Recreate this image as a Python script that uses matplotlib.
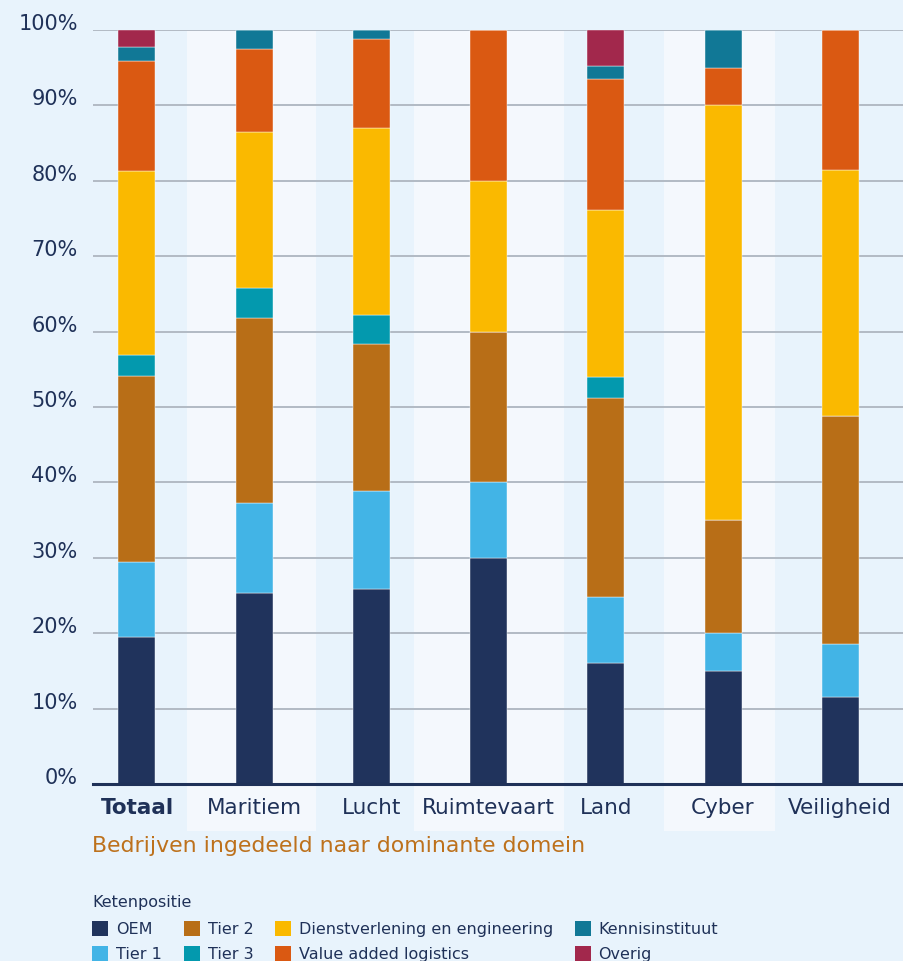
import numpy as np
import matplotlib.pyplot as plt
from matplotlib.patches import Patch

# categorieen en aandelen (%)
domeinen = ['Totaal', 'Maritiem', 'Lucht', 'Ruimtevaart', 'Land', 'Cyber', 'Veiligheid']
oem = [19.5, 25.3, 25.9, 30, 16.0, 15, 11.6]
tier1 = [9.9, 12.0, 13.0, 10, 8.8, 5, 7.0]
tier2 = [24.7, 24.5, 19.5, 20, 26.4, 15, 30.2]
tier3 = [2.8, 4.0, 3.8, 0, 2.8, 0, 0]
dienst = [24.4, 20.7, 24.8, 20, 22.1, 55, 32.6]
logistics = [14.6, 11.0, 11.8, 20, 17.4, 5, 18.6]
kennis = [1.8, 2.5, 1.2, 0, 1.7, 5, 0]
overig = [2.3, 0, 0, 0, 4.8, 0, 0]

series = [oem, tier1, tier2, tier3, dienst, logistics, kennis, overig]
namen = ['OEM', 'Tier 1', 'Tier 2', 'Tier 3', 'Dienstverlening en engineering',
         'Value added logistics', 'Kennisinstituut', 'Overig']
kleuren = ['#20335c', '#42b4e6', '#b86e17', '#0399ae', '#fab900',
           '#da5912', '#117896', '#a2284c']

NAVY = '#1f3158'
BG = '#e8f3fc'
BAND = '#f4f8fd'

plt.rcParams['font.family'] = ['DejaVu Sans']

fig = plt.figure(figsize=(9.04, 9.61), dpi=100, facecolor=BG)
ax = fig.add_axes([0.1029, 0.1842, 0.8971, 0.7846])
ax.set_facecolor(BG)

x = np.arange(len(domeinen))

# lichtere banden achter een paar kolommen
for a, b in [(0.427, 1.527), (2.36, 3.64), (4.50, 5.44)]:
    ax.axvspan(a, b, ymin=-0.062, ymax=1, color=BAND, zorder=0, clip_on=False, lw=0)

# gestapelde balken
bottom = np.zeros(len(domeinen))
for vals, naam, kleur in zip(series, namen, kleuren):
    vals = np.array(vals, dtype=float)
    ax.bar(x, vals, 0.316, bottom=bottom, color=kleur, label=naam, zorder=3,
           edgecolor='#ffffff', linewidth=0.3)
    bottom += vals

ax.set_xlim(-0.375, 6.544)
ax.set_ylim(0, 100)
ax.set_yticks(np.arange(0, 101, 10))
ax.set_yticklabels([f'{v}%' for v in range(0, 101, 10)])
ax.yaxis.grid(True, color='#b2bac4', linewidth=1.4, zorder=1)
ax.set_axisbelow(True)

for s in ['top', 'right', 'left']:
    ax.spines[s].set_visible(False)
ax.spines['bottom'].set_color(NAVY)
ax.spines['bottom'].set_linewidth(2.2)
ax.spines['bottom'].set_zorder(4)

ax.tick_params(axis='y', length=0, pad=11, labelsize=15, labelcolor=NAVY)
ax.tick_params(axis='x', length=0, pad=10, labelsize=15.5, labelcolor=NAVY)
for lab in ax.get_yticklabels():
    lab.set_va('baseline')
ax.set_xticks(x)
ax.set_xticklabels(domeinen)
ax.get_xticklabels()[0].set_fontweight('bold')

# titel onder de grafiek
fig.text(0.102, 0.1195, 'Bedrijven ingedeeld naar dominante domein', color='#bd711c',
         fontsize=15.8, va='center', ha='left')

# legenda
fig.text(0.102, 0.0605, 'Ketenpositie', color=NAVY, fontsize=11.5, va='center', ha='left')
handles = [Patch(facecolor=k, edgecolor='none') for k in kleuren]
fig.legend(handles, namen, ncol=4, loc='upper left', bbox_to_anchor=(0.102, 0.0415),
           frameon=False, fontsize=11.5, labelcolor=NAVY, handlelength=1.0,
           handleheight=1.05, handletextpad=0.5, columnspacing=1.35, labelspacing=0.55,
           borderpad=0, borderaxespad=0)

plt.savefig('out.png', dpi=100, facecolor=BG)
